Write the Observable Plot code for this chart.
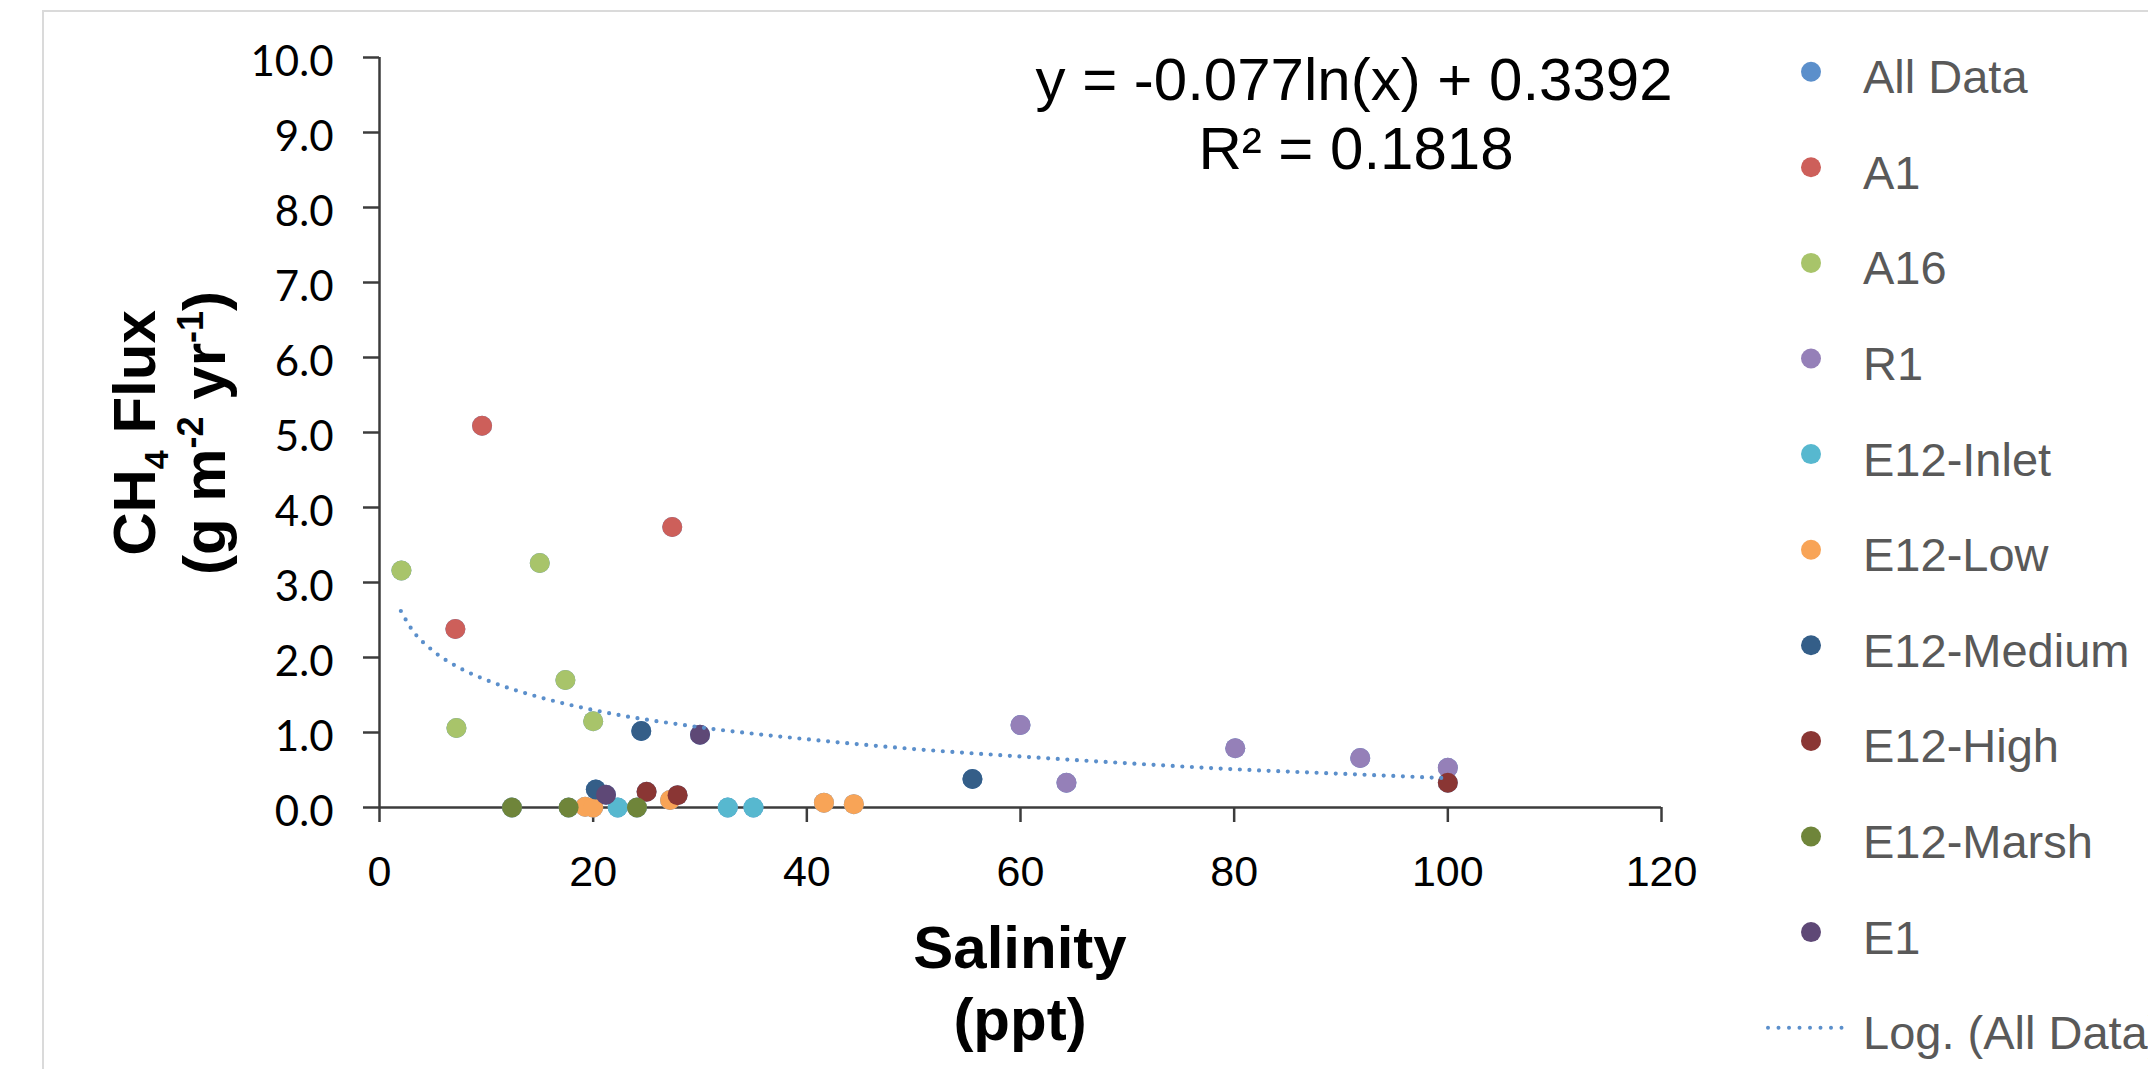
<!DOCTYPE html>
<html>
<head>
<meta charset="utf-8">
<script src="https://cdn.jsdelivr.net/npm/d3@7"></script>
<script src="https://cdn.jsdelivr.net/npm/@observablehq/plot@0.6"></script>
<style>
  html, body { margin: 0; padding: 0; background: #fff; overflow: hidden; }
  #chart svg { display: block; overflow: hidden; }
  g[aria-label="y-axis tick label"] text { font-family: Lato, "Open Sans", sans-serif; font-size: 42px; fill: #000; }
  g[aria-label="x-axis tick label"] text { font-family: "Liberation Sans", Arial, sans-serif; font-size: 43px; fill: #000; }
</style>
</head>
<body>
<div id="chart"></div>
<script>
// ---- data ----
const seriesNames = ["All Data","A1","A16","R1","E12-Inlet","E12-Low","E12-Medium","E12-High","E12-Marsh","E1"];
const seriesColors = ["#5B8FCB","#CD5F5A","#A8C46A","#9580B8","#57B8CF","#F8A457","#345E88","#8A3634","#6F853A","#5E4876"];

const a1Salinity = [7.1, 9.6, 27.4];
const a1Flux = [2.38, 5.09, 3.74];
const a16Salinity = [2.05, 7.2, 15.0, 17.4, 20.0];
const a16Flux = [3.16, 1.06, 3.26, 1.70, 1.15];
const r1Salinity = [60.0, 64.3, 80.1, 91.8, 100.0];
const r1Flux = [1.10, 0.33, 0.79, 0.66, 0.53];
const inletSalinity = [22.3, 32.6, 35.0];
const inletFlux = [0.0, 0.0, 0.0];
const lowSalinity = [19.25, 20.0, 27.2, 41.6, 44.4];
const lowFlux = [0.01, 0.0, 0.10, 0.065, 0.045];
const mediumSalinity = [20.25, 24.5, 55.5];
const mediumFlux = [0.24, 1.02, 0.38];
const highSalinity = [25.0, 27.9, 100.0];
const highFlux = [0.21, 0.165, 0.33];
const marshSalinity = [12.4, 17.7, 24.1];
const marshFlux = [0.0, 0.0, 0.0];
const e1Salinity = [21.2, 30.0];
const e1Flux = [0.17, 0.97];

// logarithmic trend line (All Data)
const trendSalinity = [2, 3, 5, 7.5, 10, 15, 20, 30, 40, 50, 60, 70, 80, 90, 100];
const trendFlux = [2.62, 2.38, 2.09, 1.86, 1.70, 1.47, 1.30, 1.07, 0.91, 0.78, 0.68, 0.59, 0.51, 0.45, 0.39];

const xTicks = [0, 20, 40, 60, 80, 100, 120];
const yTicks = [0, 1, 2, 3, 4, 5, 6, 7, 8, 9, 10];

const equationLines = ["y = -0.077ln(x) + 0.3392", "R² = 0.1818"];
const legendLabels = [...seriesNames, "Log. (All Data)"];

// ---- build tables ----
const siteSeries = [
  ["A1", a1Salinity, a1Flux],
  ["A16", a16Salinity, a16Flux],
  ["R1", r1Salinity, r1Flux],
  ["E12-Inlet", inletSalinity, inletFlux],
  ["E12-Low", lowSalinity, lowFlux],
  ["E12-Medium", mediumSalinity, mediumFlux],
  ["E12-High", highSalinity, highFlux],
  ["E12-Marsh", marshSalinity, marshFlux],
  ["E1", e1Salinity, e1Flux]
];
const rows = siteSeries.flatMap(([name, xs, ys]) => xs.map((x, i) => ({series: name, salinity: x, flux: ys[i]})));
const allRows = rows.map(d => ({series: "All Data", salinity: d.salinity, flux: d.flux}));
const trend = trendSalinity.map((x, i) => ({salinity: x, flux: trendFlux[i]}));

const W = 2148, H = 1069;
const axisColor = "#3c3c3c";
const dotR = 10;

const plot = Plot.plot({
  width: W,
  height: H,
  marginLeft: 379,
  marginRight: 487,
  marginTop: 57,
  marginBottom: 262,
  style: {background: "white", overflow: "hidden"},
  x: {domain: [0, 120], ticks: xTicks, label: null},
  y: {domain: [0, 10], ticks: yTicks, label: null},
  color: {domain: seriesNames, range: seriesColors},
  marks: [
    Plot.axisY({ticks: yTicks, tickSize: 16, tickFormat: () => "", stroke: axisColor, strokeWidth: 2.5, label: null}),
    Plot.axisY({ticks: yTicks, tickSize: 0, tickPadding: 46, dy: 5, tickFormat: d => d.toFixed(1), fontSize: 42, fill: "#000", label: null}),
    Plot.axisX({ticks: xTicks, tickSize: 15, tickPadding: 33, fontSize: 43, stroke: axisColor, strokeWidth: 2.5, fill: "#000", label: null}),
    Plot.ruleX([0], {y1: 0, y2: 10, stroke: axisColor, strokeWidth: 2.5}),
    Plot.ruleY([0], {x1: 0, x2: 120, stroke: axisColor, strokeWidth: 2.5}),
    Plot.dot(allRows, {x: "salinity", y: "flux", fill: "series", r: dotR}),
    Plot.dot(rows, {x: "salinity", y: "flux", fill: "series", r: dotR}),
    Plot.line(trend, {x: "salinity", y: "flux", stroke: seriesColors[0], strokeWidth: 4.2, strokeDasharray: "0 9.6", strokeLinecap: "round", curve: "monotone-x"})
  ]
});

document.getElementById("chart").appendChild(plot);

const svg = d3.select(plot);

// chart area border
svg.insert("rect", ":first-child")
  .attr("x", 43).attr("y", 11).attr("width", W).attr("height", H)
  .attr("fill", "none").attr("stroke", "#DADADA").attr("stroke-width", 2);

const ann = svg.append("g").attr("font-family", "'Liberation Sans', Arial, sans-serif");

// regression equation
ann.append("text").attr("x", 1354).attr("y", 100).attr("text-anchor", "middle")
  .attr("font-size", 60).attr("fill", "#000").text(equationLines[0]);
ann.append("text").attr("x", 1356).attr("y", 169).attr("text-anchor", "middle")
  .attr("font-size", 60).attr("fill", "#000").text(equationLines[1]);

// x axis title
ann.append("text").attr("x", 1020).attr("y", 968).attr("text-anchor", "middle")
  .attr("font-size", 60).attr("font-weight", "bold").attr("fill", "#000").text("Salinity");
ann.append("text").attr("x", 1020).attr("y", 1040).attr("text-anchor", "middle")
  .attr("font-size", 60).attr("font-weight", "bold").attr("fill", "#000").text("(ppt)");

// y axis title (rotated)
const yt1 = ann.append("text").attr("transform", "translate(155,433) rotate(-90)")
  .attr("text-anchor", "middle").attr("font-size", 60).attr("font-weight", "bold").attr("fill", "#000");
yt1.append("tspan").text("CH");
yt1.append("tspan").attr("font-size", 34).attr("dy", 13).text("4");
yt1.append("tspan").attr("dy", -13).text(" Flux");

const yt2 = ann.append("text").attr("transform", "translate(225,433) rotate(-90)")
  .attr("text-anchor", "middle").attr("font-size", 60).attr("font-weight", "bold").attr("fill", "#000");
yt2.append("tspan").text("(g m");
yt2.append("tspan").attr("font-size", 36).attr("dy", -22).text("-2");
yt2.append("tspan").attr("dy", 22).text(" yr");
yt2.append("tspan").attr("font-size", 36).attr("dy", -22).text("-1");
yt2.append("tspan").attr("dy", 22).text(")");

// legend
const leg = svg.append("g").attr("font-family", "'Liberation Sans', Arial, sans-serif").attr("text-anchor", "start");
legendLabels.forEach((label, i) => {
  const cy = 71.7 + 95.6 * i;
  if (i < seriesNames.length) {
    leg.append("circle").attr("cx", 1811).attr("cy", cy).attr("r", dotR).attr("fill", seriesColors[i]);
  } else {
    leg.append("line").attr("x1", 1768).attr("x2", 1852).attr("y1", cy).attr("y2", cy)
      .attr("stroke", seriesColors[0]).attr("stroke-width", 4)
      .attr("stroke-dasharray", "0 10.5").attr("stroke-linecap", "round");
  }
  leg.append("text").attr("x", 1863).attr("y", cy + 21.5).attr("font-size", 47)
    .attr("text-anchor", "start").attr("fill", "#595959").text(label);
});
</script>
</body>
</html>
